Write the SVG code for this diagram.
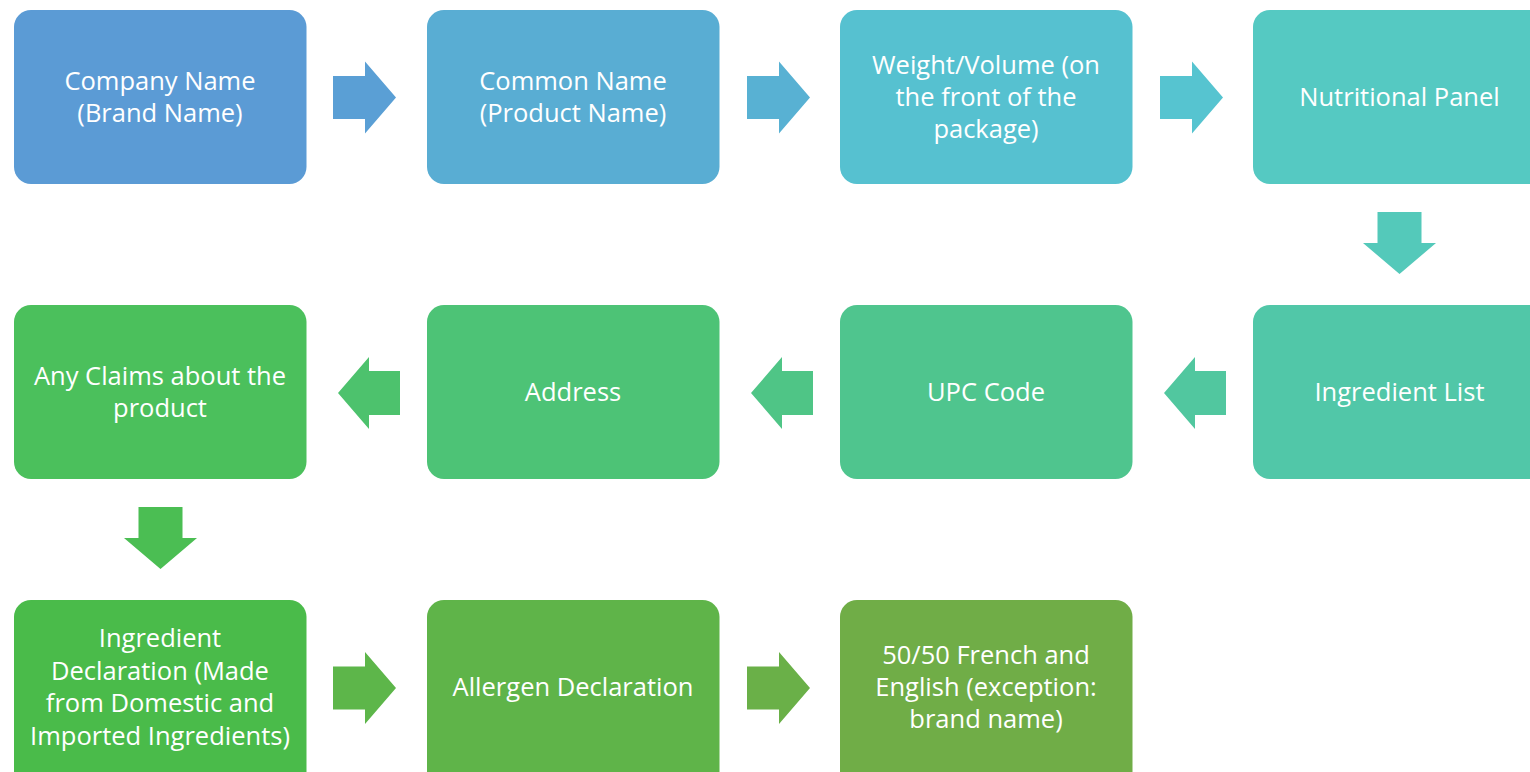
<svg xmlns="http://www.w3.org/2000/svg" width="1530" height="772" viewBox="0 0 1530 772">
  <style>
    .box { stroke: none; }
    .lbl { font-family: "Open Sans", "Noto Sans", "Liberation Sans", sans-serif; font-size: 25.5px; fill: #ffffff; text-anchor: middle; }
  </style>
  <defs>
    <!-- arrow shapes, drawn at origin; placed with transforms -->
    <polygon id="arrowRight" points="0,-21.5 32,-21.5 32,-36 63,0 32,36 32,21.5 0,21.5"/>
    <polygon id="arrowLeft" points="0,0 31,-36 31,-22 62,-22 62,22 31,22 31,36"/>
    <polygon id="arrowDown" points="-22,0 22,0 22,31 36.5,31 0,62 -36.5,31 -22,31"/>
  </defs>

  <rect width="1530" height="772" fill="#ffffff"/>

  <!-- row 1 -->
  <g id="node-company-name">
    <rect class="box" x="14" y="10" width="292.5" height="174" rx="17" fill="#5B9BD5"/>
    <text class="lbl" x="160" y="90">Company Name</text>
    <text class="lbl" x="160" y="122">(Brand Name)</text>
  </g>
  <g id="node-common-name">
    <rect class="box" x="427" y="10" width="292.5" height="174" rx="17" fill="#59ADD3"/>
    <text class="lbl" x="573" y="90">Common Name</text>
    <text class="lbl" x="573" y="122">(Product Name)</text>
  </g>
  <g id="node-weight-volume">
    <rect class="box" x="840" y="10" width="292.5" height="174" rx="17" fill="#56C1D0"/>
    <text class="lbl" x="986" y="74">Weight/Volume (on</text>
    <text class="lbl" x="986" y="106">the front of the</text>
    <text class="lbl" x="986" y="138">package)</text>
  </g>
  <g id="node-nutritional-panel">
    <rect class="box" x="1253" y="10" width="293" height="174" rx="17" fill="#55C9C2"/>
    <text class="lbl" x="1399.5" y="106">Nutritional Panel</text>
  </g>

  <!-- row 2 -->
  <g id="node-ingredient-list">
    <rect class="box" x="1253" y="305" width="293" height="174" rx="17" fill="#51C7A8"/>
    <text class="lbl" x="1399.5" y="401">Ingredient List</text>
  </g>
  <g id="node-upc-code">
    <rect class="box" x="840" y="305" width="292.5" height="174" rx="17" fill="#4FC58E"/>
    <text class="lbl" x="986" y="401">UPC Code</text>
  </g>
  <g id="node-address">
    <rect class="box" x="427" y="305" width="292.5" height="174" rx="17" fill="#4DC376"/>
    <text class="lbl" x="573" y="401">Address</text>
  </g>
  <g id="node-claims">
    <rect class="box" x="14" y="305" width="292.5" height="174" rx="17" fill="#4BC05C"/>
    <text class="lbl" x="160" y="385">Any Claims about the</text>
    <text class="lbl" x="160" y="417">product</text>
  </g>

  <!-- row 3 -->
  <g id="node-ingredient-declaration">
    <rect class="box" x="14" y="600" width="292.5" height="190" rx="17" fill="#4ABB4A"/>
    <text class="lbl" x="160" y="647">Ingredient</text>
    <text class="lbl" x="160" y="679.5">Declaration (Made</text>
    <text class="lbl" x="160" y="712">from Domestic and</text>
    <text class="lbl" x="160" y="744.5">Imported Ingredients)</text>
  </g>
  <g id="node-allergen-declaration">
    <rect class="box" x="427" y="600" width="292.5" height="190" rx="17" fill="#5FB449"/>
    <text class="lbl" x="573" y="696">Allergen Declaration</text>
  </g>
  <g id="node-bilingual">
    <rect class="box" x="840" y="600" width="292.5" height="190" rx="17" fill="#70AD47"/>
    <text class="lbl" x="986" y="664">50/50 French and</text>
    <text class="lbl" x="986" y="696">English (exception:</text>
    <text class="lbl" x="986" y="728">brand name)</text>
  </g>

  <!-- connectors -->
  <g id="connectors">
    <use href="#arrowRight" transform="translate(333,97.5)" fill="#5A9FD5"/>
    <use href="#arrowRight" transform="translate(747,97.5)" fill="#58B1D3"/>
    <use href="#arrowRight" transform="translate(1160,97.5)" fill="#56C4D0"/>
    <use href="#arrowDown" transform="translate(1399.5,212)" fill="#54C9BA"/>
    <use href="#arrowLeft" transform="translate(1164,393)" fill="#51C79F"/>
    <use href="#arrowLeft" transform="translate(751,393)" fill="#4FC586"/>
    <use href="#arrowLeft" transform="translate(338,393)" fill="#4DC26D"/>
    <use href="#arrowDown" transform="translate(160.5,507)" fill="#4BBE53"/>
    <use href="#arrowRight" transform="translate(333,688)" fill="#5DB64A"/>
    <use href="#arrowRight" transform="translate(747,688)" fill="#6AB048"/>
  </g>
</svg>
